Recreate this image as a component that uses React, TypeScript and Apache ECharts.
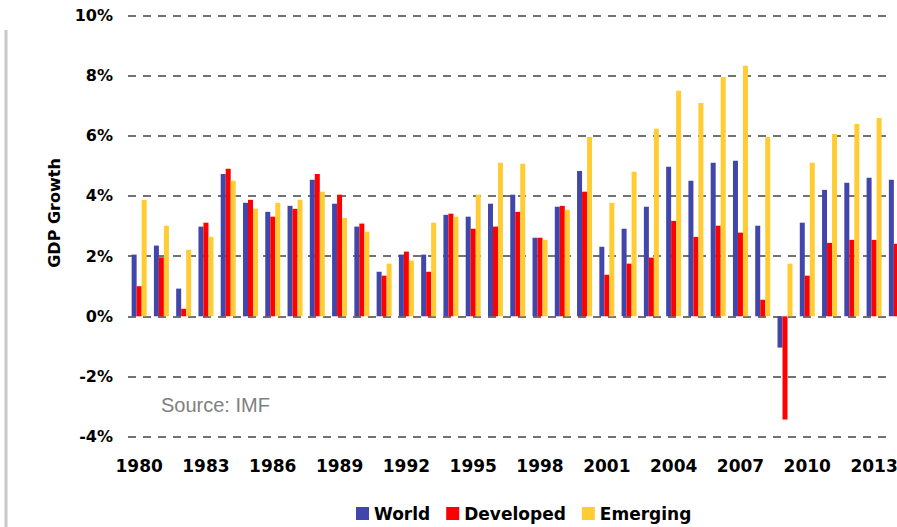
import React, { useEffect, useRef } from "react";
import * as echarts from "echarts";

const years: string[] = [
  "1980","1981","1982","1983","1984","1985","1986","1987","1988","1989",
  "1990","1991","1992","1993","1994","1995","1996","1997","1998","1999",
  "2000","2001","2002","2003","2004","2005","2006","2007","2008","2009",
  "2010","2011","2012","2013","2014",
];

const world: number[] = [
  2.05, 2.35, 0.92, 2.98, 4.73, 3.77, 3.47, 3.67, 4.54, 3.74,
  2.98, 1.48, 2.05, 2.05, 3.37, 3.31, 3.74, 4.04, 2.61, 3.64,
  4.83, 2.31, 2.91, 3.64, 4.97, 4.5, 5.1, 5.17, 3.01, -1.04,
  3.11, 4.2, 4.44, 4.6, 4.54,
];

const developed: number[] = [
  1.0, 1.96, 0.25, 3.11, 4.9, 3.87, 3.31, 3.57, 4.73, 4.04,
  3.08, 1.35, 2.15, 1.48, 3.41, 2.91, 2.98, 3.47, 2.61, 3.67,
  4.14, 1.38, 1.75, 1.95, 3.17, 2.64, 3.01, 2.78, 0.55, -3.43,
  1.35, 2.44, 2.54, 2.54, 2.41,
];

const emerging: number[] = [
  3.87, 3.01, 2.21, 2.64, 4.5, 3.57, 3.77, 3.87, 4.14, 3.27,
  2.81, 1.75, 1.85, 3.11, 3.31, 4.04, 5.1, 5.07, 2.54, 3.54,
  5.96, 3.77, 4.8, 6.23, 7.49, 7.09, 7.95, 8.32, 5.96, 1.75,
  5.1, 6.06, 6.39, 6.59, 4.6,
];

const seriesNames: string[] = ["World", "Developed", "Emerging"];
const seriesColors: string[] = ["#4146AA", "#FF0000", "#FFCC33"];

const Y_MIN = -4;
const Y_MAX = 10;
const Y_STEP = 2;

export default function App() {
  const ref = useRef<HTMLDivElement>(null);

  useEffect(() => {
    if (!ref.current) return;
    const chart = echarts.init(ref.current, undefined, { renderer: "svg" });
    const values = [world, developed, emerging];
    const boldFont = "DejaVu Sans";

    chart.setOption({
      animation: false,
      backgroundColor: "#ffffff",
      grid: [
        { left: 128, width: 779.5, top: 15.3, bottom: 90.3, outerBoundsMode: "none", containLabel: false },
        { left: 128, right: 7, top: 15.3, bottom: 90.3, outerBoundsMode: "none", containLabel: false },
      ],
      xAxis: [
        {
          gridIndex: 0,
          type: "category",
          data: years,
          axisLine: { show: false },
          axisTick: { show: false },
          splitLine: { show: false },
          axisLabel: {
            interval: 2,
            margin: 21,
            fontFamily: boldFont,
            fontWeight: "bold",
            fontSize: 17,
            color: "#000",
          },
        },
        { gridIndex: 1, type: "value", min: 0, max: 1, show: false },
      ],
      yAxis: [
        { gridIndex: 0, type: "value", min: Y_MIN, max: Y_MAX, interval: Y_STEP, show: false },
        {
          gridIndex: 1,
          type: "value",
          min: Y_MIN,
          max: Y_MAX,
          interval: Y_STEP,
          axisLine: { show: false },
          axisTick: { show: false },
          axisLabel: {
            formatter: "{value}%",
            margin: 15,
            fontFamily: boldFont,
            fontWeight: "bold",
            fontSize: 16,
            color: "#000",
          },
          splitLine: {
            show: true,
            lineStyle: { color: "#444", width: 1.5, type: [8, 7] },
          },
        },
      ],
      legend: {
        left: 351,
        top: 500,
        itemWidth: 13,
        itemHeight: 13,
        itemGap: 16,
        icon: "rect",
        data: seriesNames,
        textStyle: {
          fontFamily: boldFont,
          fontWeight: "bold",
          fontSize: 17,
          color: "#000",
        },
      },
      graphic: [
        {
          type: "line",
          shape: { x1: 6, y1: 30, x2: 6, y2: 527 },
          style: { stroke: "#c8c8c8", lineWidth: 3 },
        },
        {
          type: "text",
          x: 54,
          y: 213,
          rotation: Math.PI / 2,
          style: {
            text: "GDP Growth",
            fontFamily: boldFont,
            fontWeight: "bold",
            fontSize: 16,
            fill: "#000",
            align: "center",
            verticalAlign: "middle",
          },
        },
        {
          type: "text",
          x: 161,
          y: 405,
          style: {
            text: "Source: IMF",
            fontFamily: "Liberation Sans",
            fontSize: 20,
            fill: "#808080",
            align: "left",
            verticalAlign: "middle",
          },
        },
      ],
      series: seriesNames.map((name, i) => ({
        name,
        type: "bar",
        xAxisIndex: 0,
        yAxisIndex: 0,
        data: values[i],
        barWidth: 5,
        barGap: "0%",
        itemStyle: { color: seriesColors[i] },
        clip: false,
      })),
    });

    return () => chart.dispose();
  }, []);

  return (
    <div
      ref={ref}
      style={{ position: "fixed", left: 0, top: 0, width: 897, height: 527 }}
    />
  );
}
